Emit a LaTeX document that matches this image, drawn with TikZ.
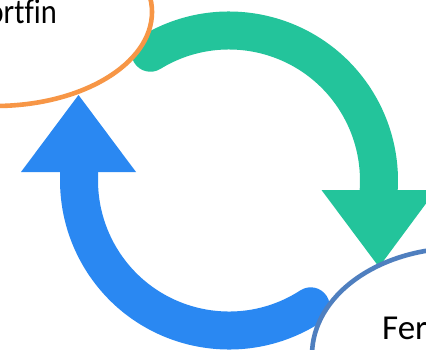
\documentclass[tikz,border=0pt]{standalone}
\usepackage{fontspec}
\setmainfont{Carlito}[Ligatures=NoCommon]
\definecolor{cycgreen}{HTML}{23C49B}
\definecolor{cycblue}{HTML}{2A88F2}
\definecolor{ringorange}{HTML}{F79646}
\definecolor{ringblue}{HTML}{4F7FBF}
\tikzset{
  shaft/.style={line width=38pt, line cap=round},
  bubble/.style={fill=white, line width=4.6pt},
  lbl/.style={inner sep=0pt, font=\fontsize{35}{38}\selectfont}
}
\begin{document}
\begin{tikzpicture}[x=1pt,y=1pt]
\useasboundingbox (0,0) rectangle (426,349);
\clip (0,0) rectangle (426,349);
\fill[white] (0,0) rectangle (426,349);
\coordinate (c) at (229,168.5);
% green arrow
\draw[shaft, cycgreen] ([shift={(121.6:150)}]c) arc[start angle=121.6, end angle=-3.6, radius=150];
\coordinate (gl) at (321.5,159);
\coordinate (gr) at (436,159);
\coordinate (gt) at (379,82);
\fill[cycgreen] (gl) -- (gr) -- (gt) -- cycle;
% blue arrow
\draw[shaft, cycblue] ([shift={(-57:150)}]c) arc[start angle=-57, end angle=-183.2, radius=150];
\coordinate (bl) at (21,177);
\coordinate (br) at (136,177);
\coordinate (bt) at (78.5,254);
\fill[cycblue] (bl) -- (br) -- (bt) -- cycle;
% bubbles
\draw[bubble, draw=ringorange] (-5,337) ellipse[x radius=157, y radius=94];
\draw[bubble, draw=ringblue] (460,-6) ellipse[x radius=148, y radius=107];
\node[lbl, anchor=base east, xscale=0.87, transform shape] (t1) at (57,325.7) {ortfin};
\node[lbl, anchor=base west] (t2) at (382,9.7) {Fer};
\end{tikzpicture}
\end{document}
